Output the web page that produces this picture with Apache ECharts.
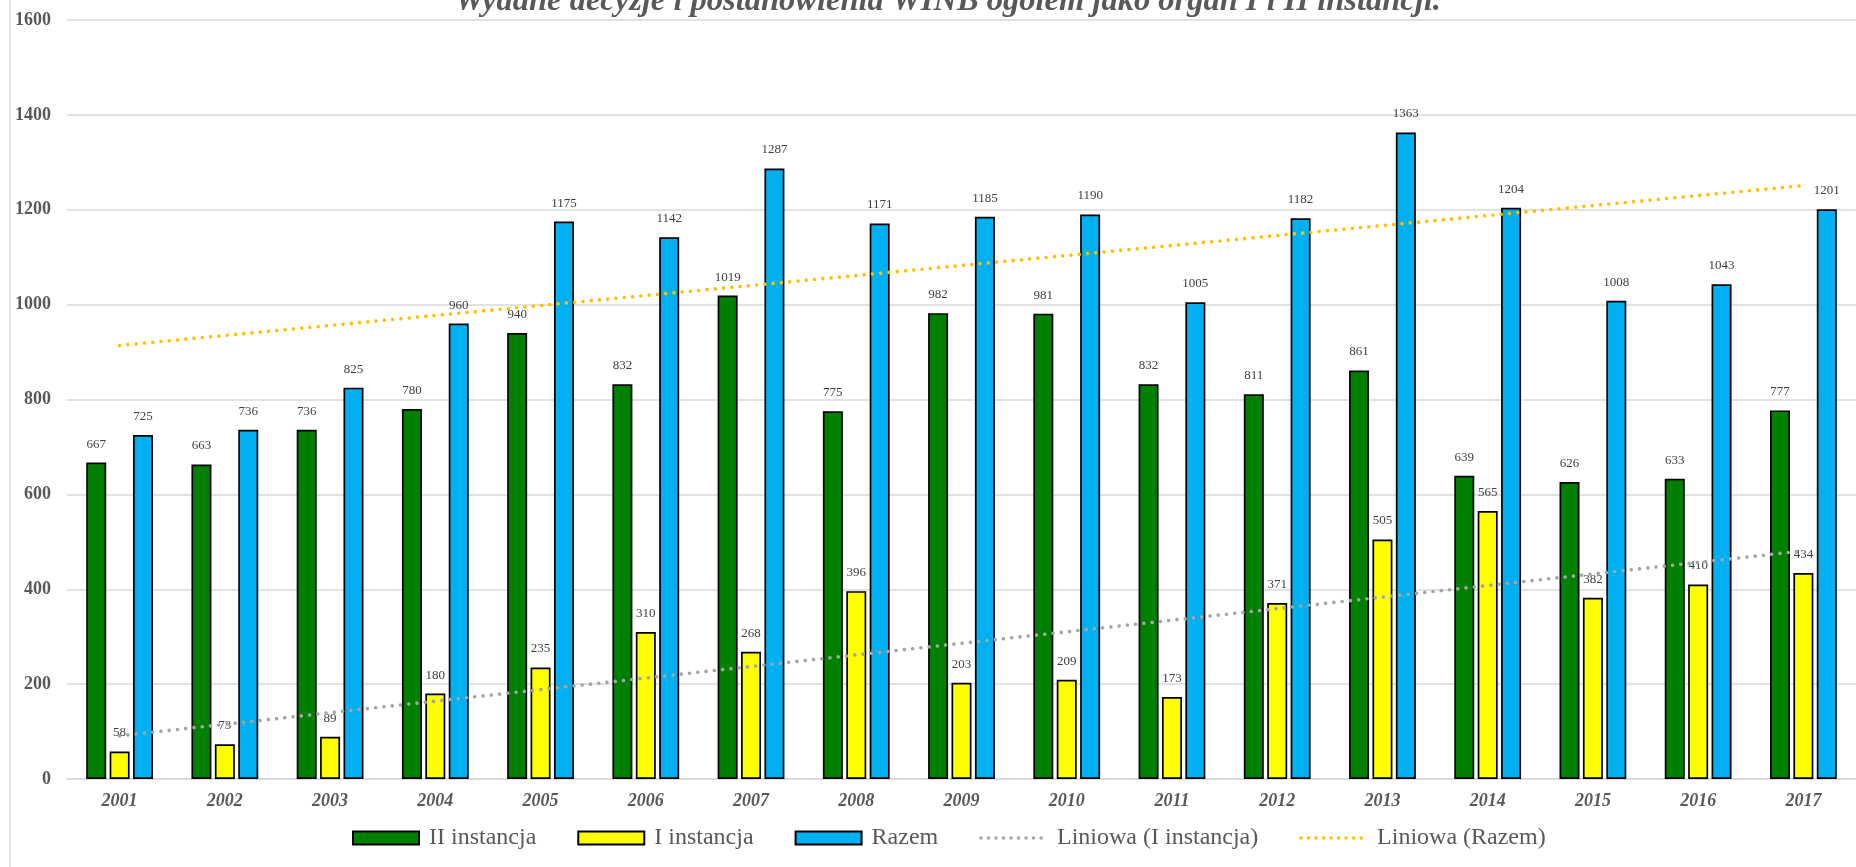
<!DOCTYPE html>
<html>
<head>
<meta charset="utf-8">
<script src="https://cdn.jsdelivr.net/npm/echarts@6/dist/echarts.min.js"></script>
<style>
html,body{margin:0;padding:0;background:#fff;}
#chart{width:1856px;height:867px;}
</style>
</head>
<body>
<div id="chart"></div>
<script>
var years = ['2001','2002','2003','2004','2005','2006','2007','2008','2009','2010','2011','2012','2013','2014','2015','2016','2017'];
var secondInstance = [667,663,736,780,940,832,1019,775,982,981,832,811,861,639,626,633,777];
var firstInstance = [58,73,89,180,235,310,268,396,203,209,173,371,505,565,382,410,434];
var total = [725,736,825,960,1175,1142,1287,1171,1185,1190,1005,1182,1363,1204,1008,1043,1201];
// trend line end points
var trendFirstYears = ['2001','2017'];
var trendFirstValues = [91,481];
var trendTotalYears = ['2001','2017'];
var trendTotalValues = [914,1251];
var yTicks = [0,200,400,600,800,1000,1200,1400,1600];

var FONT = "'Liberation Serif','Times New Roman',serif";
var chart = echarts.init(document.getElementById('chart'), null, {renderer:'canvas'});

function barSeries(name, data, color){
  return {
    name: name, type: 'bar', data: data, barWidth: 20, barGap: '17%',
    itemStyle: {color: color, borderColor: '#000', borderWidth: 1.7},
    label: {show: true, position: 'top', distance: 12, color: '#404040',
            fontFamily: FONT, fontSize: 13},
    z: 2
  };
}
function trendSeries(name, xs, ys, color){
  return {
    name: name, type: 'line', symbol: 'none', silent: true,
    data: xs.map(function(x,i){return [x, ys[i]];}),
    lineStyle: {color: color, width: 3.6, type: [0.01, 8.3], cap: 'round'},
    itemStyle: {color: color},
    z: 5
  };
}
function trendLegend(name, color){
  return {name: name, itemStyle: {opacity: 0},
          lineStyle: {color: color, width: 3.6, type: [0.01, 7.5], cap: 'round'}};
}

chart.setOption({
  animation: false,
  backgroundColor: '#fff',
  title: {
    text: 'Wydane decyzje i postanowienia WINB ogolem jako organ I i II instancji.',
    left: 450, top: -19,
    textStyle: {fontFamily: FONT, fontSize: 32.5, fontWeight: 'bold', fontStyle: 'italic',
                color: '#595959', lineHeight: 32}
  },
  graphic: [{
    type: 'line', shape: {x1: 10, y1: 0, x2: 10, y2: 867},
    style: {stroke: '#D9D9D9', lineWidth: 1.5}, silent: true
  }],
  legend: {
    left: 352, top: 826, padding: 0, itemGap: 41,
    itemWidth: 66, itemHeight: 13,
    textStyle: {fontFamily: FONT, fontSize: 24, color: '#595959', padding: [0,0,0,5]},
    data: [
      {name: 'II instancja', icon: 'rect'},
      {name: 'I instancja', icon: 'rect'},
      {name: 'Razem', icon: 'rect'},
      trendLegend('Liniowa (I instancja)', '#A5A5A5'),
      trendLegend('Liniowa (Razem)', '#FFC000')
    ]
  },
  grid: {left: 67, right: -18, top: 20, bottom: 88, containLabel: false},
  xAxis: {
    type: 'category', data: years,
    axisLine: {lineStyle: {color: '#D9D9D9', width: 1.5}},
    axisTick: {show: false},
    axisLabel: {margin: 13, color: '#595959', fontFamily: FONT, fontSize: 18,
                fontWeight: 'bold', fontStyle: 'italic'}
  },
  yAxis: {
    type: 'value', min: yTicks[0], max: yTicks[yTicks.length-1], interval: yTicks[1]-yTicks[0],
    axisLine: {show: false}, axisTick: {show: false},
    splitLine: {lineStyle: {color: '#D9D9D9', width: 1.5}},
    axisLabel: {margin: 16, color: '#595959', fontFamily: FONT, fontSize: 18, fontWeight: 'bold',
                formatter: function(v){ return String(v); }}
  },
  series: [
    barSeries('II instancja', secondInstance, '#008000'),
    barSeries('I instancja', firstInstance, '#FFFF00'),
    barSeries('Razem', total, '#00B0F0'),
    trendSeries('Liniowa (I instancja)', trendFirstYears, trendFirstValues, '#A5A5A5'),
    trendSeries('Liniowa (Razem)', trendTotalYears, trendTotalValues, '#FFC000')
  ]
});
</script>
</body>
</html>
